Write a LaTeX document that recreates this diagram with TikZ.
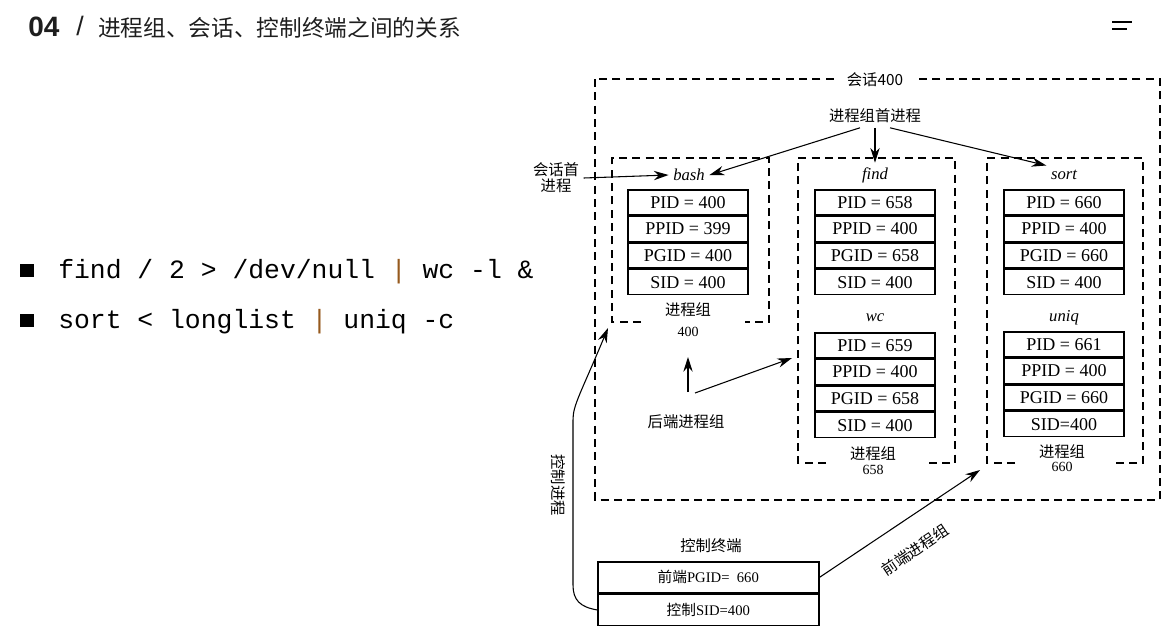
\documentclass[tikz,border=0pt]{standalone}
\usepackage{fontspec}
\setmainfont{Liberation Serif}
\newfontfamily\cjk{Noto Sans CJK SC}
\newfontfamily\titlefont{Liberation Sans}
\newfontfamily\codefont{Liberation Mono}
\usetikzlibrary{positioning,arrows.meta}

\definecolor{pipecol}{RGB}{150,90,30}
\definecolor{inkgray}{RGB}{30,30,30}

\tikzset{
  cell/.style={draw,line width=1.2pt,minimum width=120*0.75pt,minimum height=25*0.75pt,inner sep=0pt,font=\fontsize{13.5}{14}\selectfont},
  pname/.style={font=\itshape\fontsize{12.5}{13}\selectfont},
  zh/.style={font=\cjk\fontsize{11.5}{13}\selectfont,align=center},
  num/.style={font=\fontsize{10.5}{12}\selectfont},
  grp/.style={line width=1.1pt,dash pattern={on 6pt off 4pt}},
  link/.style={line width=0.8pt,-{Stealth[length=11pt,width=7pt]}},
  code/.style={font=\codefont\fontsize{19.8}{22}\selectfont,anchor=west,inner sep=0pt}
}

% one process table: name, x, y, four rows
\newcommand{\proctab}[7]{%
  \node[cell,anchor=north] (#1a) at (#2,#3) {#4};
  \node[cell,below=0pt of #1a] (#1b) {#5};
  \node[cell,below=0pt of #1b] (#1c) {#6};
  \node[cell,below=0pt of #1c] (#1d) {#7};
}

\begin{document}
\begin{tikzpicture}[x=0.75pt,y=0.75pt,yscale=-1,xscale=1]
\useasboundingbox (0,0) rectangle (1170,643);

% Title
\node[anchor=west,inner sep=0pt,font=\titlefont\bfseries\fontsize{21}{24}\selectfont,color=inkgray] (num) at (28,27) {04};
\node[anchor=west,inner sep=0pt,font=\titlefont\fontsize{20}{24}\selectfont,color=inkgray] (slash) at (76,26) {/};
\node[anchor=west,inner sep=0pt,font=\cjk\fontsize{17}{20}\selectfont,color=inkgray] (title) at (98,28) {进程组、会话、控制终端之间的关系};
% menu icon
\draw[line width=1.6pt] (1112,22) -- (1132,22);
\draw[line width=1.6pt] (1112,29) -- (1127,29);

% Commands
\fill (20,264) rectangle (34,277);
\fill (20,314) rectangle (34,327);
\node[code] (cmd1) at (58,272) {find / 2 > /dev/null {\color{pipecol}|} wc -l \&};
\node[code] (cmd2) at (58,322) {sort < longlist {\color{pipecol}|} uniq -c};

% Session
\draw[grp] (595,79) rectangle (1160,500);
\node[zh,fill=white,inner xsep=10pt] (sess) at (875,80) {会话400};
\node[zh] (leader) at (875,116) {进程组首进程};

% Process groups
\draw[grp] (641,322) -- (612,322) -- (612,158) -- (769,158) -- (769,322) -- (745,322);
\draw[grp] (826,463) -- (798,463) -- (798,158) -- (955,158) -- (955,463) -- (925,463);
\draw[grp] (1015,463) -- (987,463) -- (987,158) -- (1143,158) -- (1143,463) -- (1112,463);

% Processes
\node[pname] (bash) at (689,175) {bash};
\node[pname] (find) at (875,175) {find};
\node[pname] (sort) at (1064,175) {sort};
\node[pname] (wc) at (875,318) {wc};
\node[pname] (uniq) at (1064,318) {uniq};
\proctab{bt}{688}{189}{PID = 400}{PPID = 399}{PGID = 400}{SID = 400}
\proctab{ft}{875}{189}{PID = 658}{PPID = 400}{PGID = 658}{SID = 400}
\proctab{st}{1064}{189}{PID = 660}{PPID = 400}{PGID = 660}{SID = 400}
\proctab{wt}{875}{332}{PID = 659}{PPID = 400}{PGID = 658}{SID = 400}
\proctab{ut}{1064}{331}{PID = 661}{PPID = 400}{PGID = 660}{SID=400}

% Group labels
\node[zh] (g400) at (688,310) {进程组};
\node[num] (n400) at (688,332) {400};
\node[zh] (g658) at (873,454) {进程组};
\node[num] (n658) at (873,470) {658};
\node[zh] (g660) at (1062,452) {进程组};
\node[num] (n660) at (1062,467) {660};

% Session leader
\node[zh,font=\cjk\fontsize{11.5}{12}\selectfont] (sleader) at (556,178) {会话首\\进程};
\draw[link] (sleader.east) -- (bash.west);

% Group leaders
\draw[link] (leader.south) ++(-15,0) coordinate (l1) (l1) -- (bash.east);
\draw[link] (leader.south) -- (find.north);
\draw[link] (leader.south) ++(15,0) coordinate (l3) (l3) -- (sort.north west);

% Background groups
\node[zh] (back) at (686,422) {后端进程组};
\coordinate (bk1) at (688,392);
\coordinate (bk2) at (695,393);
\draw[link] (bk1) -- (688,357);
\draw[link] (bk2) -- (792,358);

% Terminal
\node[zh] (tty) at (711,546) {控制终端};
\node[draw,line width=1.2pt,minimum width=221*0.75pt,minimum height=31*0.75pt,anchor=north west,inner sep=0pt,font=\cjk\fontsize{11}{12}\selectfont] (fg) at (597,561) {前端{\rmfamily PGID=~~660}};
\node[draw,line width=1.2pt,minimum width=221*0.75pt,minimum height=31*0.75pt,below=0pt of fg,inner sep=0pt,font=\cjk\fontsize{11}{12}\selectfont] (sid) {控制{\rmfamily SID=400}};

% Controlling process
\draw[link] (sid.west) .. controls (580,607) and (573,600) .. (573,585) -- (573,420) .. controls (573,405) and (580,395) .. (608,328);
\node[zh,rotate=-90] (ctl) at (558,485) {控制进程};

% Foreground group
\draw[link] (fg.east) -- (980,470);
\node[zh,rotate=34] (front) at (915,550) {前端进程组};
\end{tikzpicture}
\end{document}
